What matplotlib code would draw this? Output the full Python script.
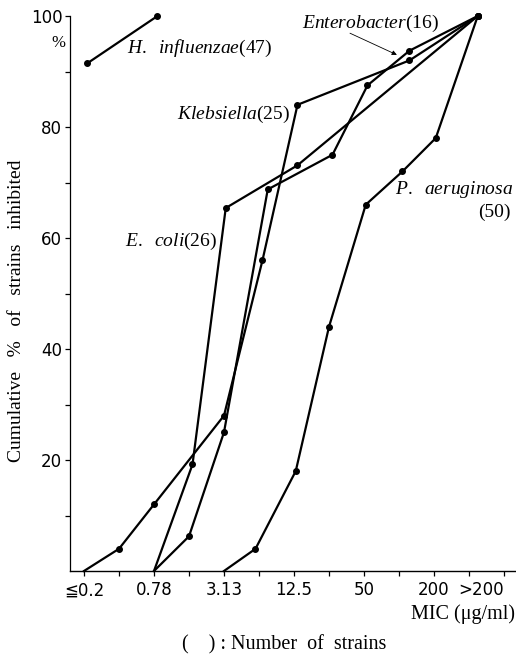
import matplotlib
matplotlib.use('Agg')
import matplotlib.pyplot as plt

plt.rcParams['mathtext.fontset'] = 'custom'
plt.rcParams['mathtext.it'] = 'Liberation Serif:italic'
plt.rcParams['mathtext.rm'] = 'Liberation Serif'

# MIC dilution steps: 0 = <=0.2, 1 = 0.39, 2 = 0.78 ... 12 = >200
tick_pos = [0, 2, 4, 6, 8, 10, 12]
tick_labels = ['≦0.2', '0.78', '3.13', '12.5', '50', '200', '>200']

hinf_x = [0.1, 2.1]
hinf_y = [91.5, 100]

kleb_x = [0, 1, 2, 4, 5.1, 6.1, 9.3, 11.25]
kleb_y = [0, 4, 12, 28, 56, 84, 92, 100]

entero_x = [2, 3, 4, 5.25, 7.1, 8.1, 9.3, 11.25]
entero_y = [0, 6.25, 25, 68.75, 75, 87.5, 93.75, 100]

ecoli_x = [2, 3.1, 4.05, 6.1, 11.25]
ecoli_y = [0, 19.2, 65.4, 73.1, 100]

paer_x = [4, 4.9, 6.05, 7.0, 8.05, 9.1, 10.05, 11.25]
paer_y = [0, 4, 18, 44, 66, 72, 78, 100]

W, H = 516, 657
fig = plt.figure(figsize=(W / 100, H / 100), dpi=100)
ax = fig.add_axes([70 / W, (H - 571) / H, 446 / W, 555 / H])

tickfont = ['Liberation Sans Narrow', 'DejaVu Sans']
serif = 'Liberation Serif'

for xs, ys in [(kleb_x, kleb_y), (entero_x, entero_y), (ecoli_x, ecoli_y), (paer_x, paer_y)]:
    ax.plot(xs, ys, color='black', lw=1.6, marker='o', ms=4,
            markevery=list(range(1, len(xs))), clip_on=False)
ax.plot(hinf_x, hinf_y, color='black', lw=1.6, marker='o', ms=4, clip_on=False)

ax.set_xlim(-0.4, 12.343)
ax.set_ylim(0, 100)
ax.spines['top'].set_visible(False)
ax.spines['right'].set_visible(False)
ax.spines['left'].set_linewidth(0.9)
ax.spines['bottom'].set_linewidth(1.0)

ax.set_xticks(tick_pos)
ax.set_xticklabels(tick_labels, family=tickfont, fontsize=12)
ax.get_xticklabels()[-1].set_ha('right')
ax.set_xticks(range(1, 12, 2), minor=True)
ax.set_yticks([20, 40, 60, 80, 100])
ax.set_yticklabels(['20', '40', '60', '80', '100'], family=tickfont, fontsize=12)
ax.set_yticks(range(10, 100, 20), minor=True)
ax.tick_params(axis='both', which='both', direction='out', width=0.9, length=3.5)
ax.tick_params(axis='x', pad=4)
ax.tick_params(axis='y', pad=2)

lab = dict(fontsize=14, family=serif, va='center', ha='left')
ax.text(1.23, 94.2, r'$\it{H.\ \ influenzae}$(47)', **lab)
ax.text(6.23, 98.7, r'$\it{Enterobacter}$(16)', **lab)
ax.text(2.66, 82.2, r'$\it{Klebsiella}$(25)', **lab)
ax.text(1.17, 59.3, r'$\it{E.\ \ coli}$(26)', **lab)
ax.text(8.89, 68.8, r'$\it{P.\ \ aeruginosa}$', **lab)
ax.text(12.2, 64.7, '(50)', fontsize=14, family=serif, va='center', ha='right')
ax.annotate('', xy=(8.94, 93.0), xytext=(7.6, 96.9),
            arrowprops=dict(arrowstyle='-|>', lw=0.6, color='black',
                            mutation_scale=7, shrinkA=0, shrinkB=0))

fig.text(58 / W, 1 - 43 / H, '%', fontsize=12, family=serif, ha='center', va='center')
fig.text(17 / W, 1 - 311 / H, 'Cumulative   %   of   strains   inhibited', fontsize=14,
         family=serif, rotation=90, ha='center', va='center')
fig.text(515 / W, 1 - 614 / H, 'MIC (μg/ml)', fontsize=14.5, family=serif, ha='right', va='center')
fig.text(284 / W, 1 - 645 / H, '(    ) : Number  of  strains', fontsize=14.5, family=serif,
         ha='center', va='center')

fig.savefig('out.png', dpi=100)
